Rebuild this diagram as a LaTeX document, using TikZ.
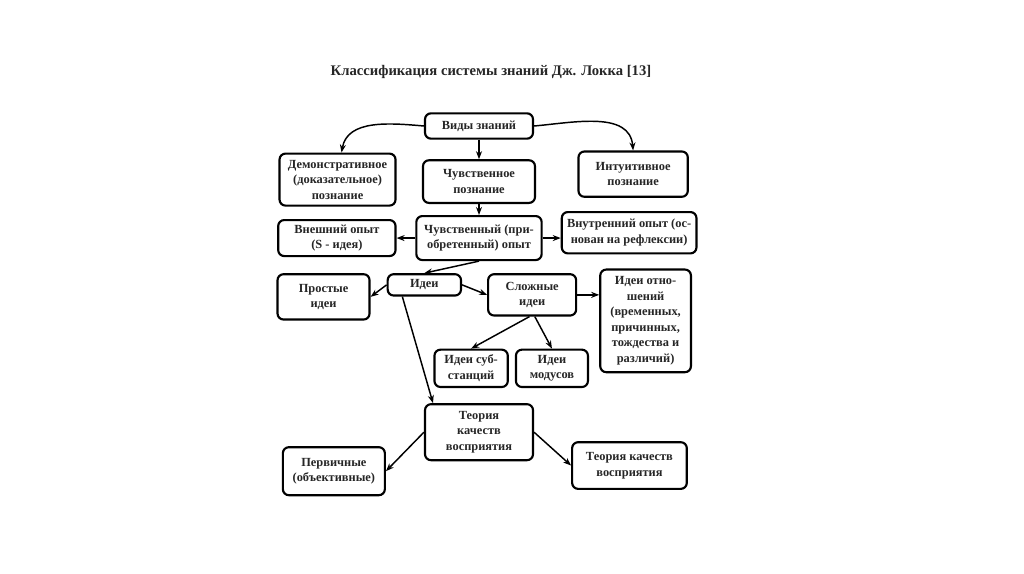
\documentclass[tikz,border=0pt]{standalone}
\usepackage{fontspec}
\setmainfont{Liberation Serif}
\usepackage{tikz}
\usetikzlibrary{arrows.meta,positioning}
\tikzset{
  box/.style={rounded corners=4.5pt,draw=black,line width=1.6pt,fill=white,inner sep=2pt,align=center,
    font=\bfseries\fontsize{9.3}{11.6}\selectfont,text=black!85},
  arr/.style={-{Stealth[length=6pt,width=4.5pt]},line width=1.1pt,black},
}

\begin{document}
\begin{tikzpicture}[x=0.75pt,y=-0.75pt]
  \useasboundingbox[fill=white] (0,0) rectangle (1024,574);
  \node[font=\bfseries\fontsize{11}{13}\selectfont,text=black!85] (title) at (491,72)
    {Классификация системы знаний Дж. Локка [13]};
  \node[box,minimum width=81pt,minimum height=19pt] (vid) at (479,126) {Виды знаний};
  \node[box,below=14.6pt of vid,minimum width=84pt,minimum height=32pt] (chuvp) {Чувственное\\познание};
  \node[box,left=19pt of chuvp,yshift=1.5pt,minimum width=87pt,minimum height=39pt] (dem)
    {Демонстративное\\(доказательное)\\познание};
  \node[box,right=31pt of chuvp,yshift=5.6pt,minimum width=82pt,minimum height=34pt] (intu) {Интуитивное\\познание};
  \node[box,below=8.25pt of chuvp,minimum width=94pt,minimum height=33pt] (chuvo) {Чувственный (при-\\обретенный) опыт};
  \node[box,left=14pt of chuvo,minimum width=88pt,minimum height=27pt] (vnesh) {Внешний опыт\\(S - идея)};
  \node[box,right=13.5pt of chuvo,yshift=4pt,minimum width=101pt,minimum height=31pt] (vnutr)
    {Внутренний опыт (ос-\\нован на рефлексии)};
  % ideas
  \node[box,below=9pt of chuvo,xshift=-41pt,minimum width=55pt,minimum height=16pt] (idei) {Идеи};
  \node[box,left=12pt of idei,yshift=-9pt,minimum width=69pt,minimum height=34pt] (prost) {Простые\\идеи};
  \node[box,right=18.75pt of idei,yshift=-7.5pt,minimum width=66pt,minimum height=31pt] (slozh) {Сложные\\идеи};
  \node[box,right=16.5pt of slozh,yshift=-19.5pt,minimum width=68pt,minimum height=77pt] (otnosh)
    {Идеи отно-\\шений\\(временных,\\причинных,\\тождества и\\различий)};
  \node[box,below=24pt of slozh,xshift=-45.75pt,minimum width=55pt,minimum height=28pt] (subst) {Идеи суб-\\станций};
  \node[box,right=4.5pt of subst,minimum width=54pt,minimum height=28pt] (modus) {Идеи\\модусов};
  % qualities
  \node[box,below=106.5pt of chuvo,minimum width=81pt,minimum height=42pt] (teor) {Теория\\качеств\\восприятия};
  \node[box,left=28.5pt of teor,yshift=-29.25pt,minimum width=76.5pt,minimum height=36pt] (perv) {Первичные\\(объективные)};
  \node[box,right=27.75pt of teor,yshift=-25pt,minimum width=86pt,minimum height=35pt] (teor2) {Теория качеств\\восприятия};

  \draw[arr] (vid.west) to[out=175,in=80] ([xshift=3pt]dem.north);
  \draw[arr] (vid.east) to[out=5,in=95] (intu.north);
  \draw[arr] (vid) -- (chuvp);
  \draw[arr] (chuvp) -- (chuvo);
  \draw[arr] (chuvo) -- (vnesh);
  \draw[arr] (chuvo.east) -- ([yshift=-4pt]vnutr.west);
  \draw[arr] (chuvo.south) -- (idei.north);
  \draw[arr] (idei.west) -- (prost.east);
  \draw[arr] (idei.east) -- (slozh.west);
  \draw[arr] (slozh.east) -- (slozh.east -| otnosh.west);
  \draw[arr] ([xshift=-2pt]slozh.south) -- (subst.north);
  \draw[arr] ([xshift=2pt]slozh.south) -- (modus.north);
  \draw[arr] ([xshift=-16.5pt]idei.south) -- ([xshift=-34.5pt]teor.north);
  \draw[arr] (teor.west) -- (perv.east);
  \draw[arr] (teor.east) -- (teor2.west);
\end{tikzpicture}
\end{document}
